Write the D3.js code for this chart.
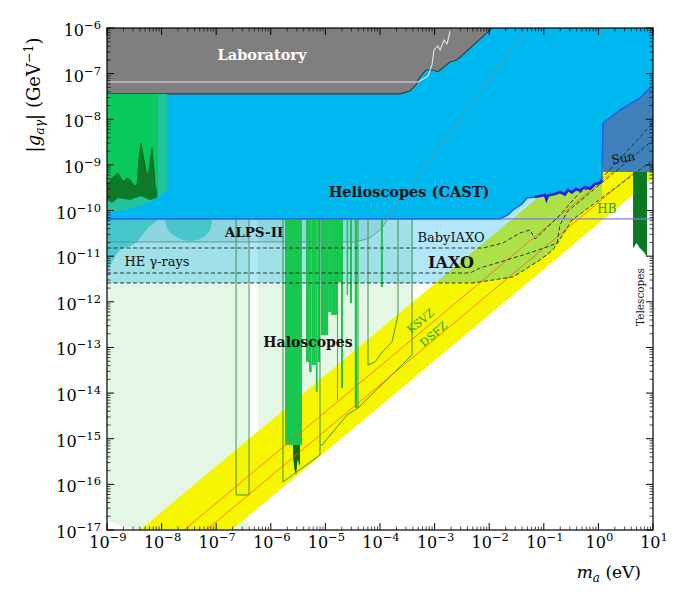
<!DOCTYPE html>
<html><head><meta charset="utf-8">
<script src="https://cdn.jsdelivr.net/npm/d3@7"></script>
<style>body{margin:0;background:#fff}svg{display:block}</style>
</head><body>
<svg id="c" width="682" height="600"></svg>
<script>
// ---------- data (mass in eV, coupling in GeV^-1) ----------
const xTickExps = [-9,-8,-7,-6,-5,-4,-3,-2,-1,0,1];
const yTickExps = [-17,-16,-15,-14,-13,-12,-11,-10,-9,-8,-7,-6];

const laboratory = [[1e-9,1e-6],[1e-9,3.6e-8],[2.32e-4,3.6e-8],[3.54e-4,4.17e-8],[4.56e-4,5.64e-8],[5.4e-4,8.43e-8],[6.95e-4,1.2e-7],[9.35e-4,1.2e-7],[1.15e-3,1.09e-7],[1.55e-3,1.47e-7],[1.91e-3,1.8e-7],[2.57e-3,1.99e-7],[1.03e-2,9e-7],[1.12e-2,1e-6]];
const labInner = [[1e-9,6.56e-8],[4.97e-4,6.56e-8],[7.57e-4,8.87e-8],[8.95e-4,1.55e-7],[9.75e-4,3.3e-7],[1.15e-3,4.04e-7],[1.26e-3,3.3e-7],[1.49e-3,5.46e-7],[1.69e-3,4.46e-7],[1.91e-3,8.17e-7],[2.08e-3,1e-6]];

const castLimit = [[1e-9,6.6e-11],[1.58e-2,6.6e-11],[2.2e-2,8.0e-11],[2.73e-2,1.03e-10],[3.99e-2,1.39e-10],[4.92e-2,1.88e-10],[6.9e-2,1.98e-10],[8.51e-2,2.09e-10],[0.105,2.19e-10],[0.112,1.75e-10],[0.119,2.1e-10],[0.13,2.19e-10],[0.16,2.31e-10],[0.198,2.55e-10],[0.244,2.25e-10],[0.277,2.83e-10],[0.328,2.5e-10],[0.389,2.97e-10],[0.46,2.75e-10],[0.569,3.28e-10],[0.702,3.0e-10],[0.867,3.82e-10],[1.07,4.02e-10],[1.16,4.68e-10],[1.21,8.28e-9],[2.49,1.6e-8],[5.78,2.92e-8],[10,5.64e-8]];
const sunRegion = [[1.21,8.28e-9],[2.49,1.6e-8],[5.78,2.92e-8],[10,5.64e-8],[10,7e-10],[1.21,7e-10]];
const telescopes = [[4.31,7e-10],[4.31,1.5e-11],[5.0,1.95e-11],[5.78,1.5e-11],[6.8,1.24e-11],[7.76,9.6e-12],[7.76,7e-10]];
const hbLimit = [[1e-9,6.6e-11],[10,6.6e-11]];

const qcdUpper = [[4.02e-9,1e-17],[10,2.49e-8]];
const qcdLower = [[1.93e-7,1e-17],[10,5.18e-10]];
const ksvz = [[2.57e-8,1e-17],[10,3.89e-9]];
const dfsz = [[6.61e-8,1e-17],[10,1.51e-9]];

const babyIAXO = [[1e-9,1.51e-11],[7.69e-3,1.51e-11],[1.79e-2,1.95e-11],[3.66e-2,3.22e-11],[5.58e-2,3.75e-11],[6.9e-2,2.38e-11],[0.175,6.87e-11],[0.46,2.5e-10],[0.9,3.7e-10],[10,8.28e-9]];
const iaxo = [[1e-9,4.28e-12],[4.45e-3,4.28e-12],[6.79e-3,5.5e-12],[1.58e-2,7.46e-12],[4.16e-2,1.06e-11],[0.1146,1.59e-11],[0.175,1.95e-11],[0.198,4.83e-11],[0.266,9.3e-11],[10,3.52e-9]];
const iaxoPlus = [[1e-9,2.59e-12],[5.05e-3,2.59e-12],[2.73e-2,3.5e-12],[8.51e-2,8.26e-12],[0.147,1.37e-11],[0.215,2.77e-11],[0.328,6.2e-11],[10,1.28e-9]];

const alpsII = [[1e-9,2.05e-11],[3.48e-5,2.05e-11],[6.56e-5,2.5e-11],[1.09e-4,4.15e-11],[1.52e-4,8.0e-11],[1.73e-4,1.03e-10],[1.9e-4,1.15e-10],[2.1e-4,1.6e-10],[2.87e-4,2.19e-10],[3.54e-4,3.28e-10],[4.92e-2,1e-6]];

const heBlobA = [[1e-9,6.6e-11],[8.59e-9,6.6e-11],[5.63e-9,4.15e-11],[4.56e-9,3.0e-11],[4.02e-9,2.5e-11],[3.7e-9,2.2e-11],[2.64e-9,1.67e-11],[1.73e-9,1.37e-11],[1.24e-9,7.46e-12],[1e-9,4.51e-12]];
const heBlobB = [[1.15e-8,6.6e-11],[1.31e-8,3.75e-11],[2.0e-8,2.5e-11],[3.31e-8,2.15e-11],[5.5e-8,2.5e-11],[7.7e-8,3.75e-11],[8.37e-8,6.6e-11]];

const lowMassTeal = [[1e-9,3.6e-8],[1.26e-8,3.6e-8],[1.26e-8,2.83e-10],[9.36e-9,2.09e-10],[6.13e-9,1.54e-10],[3.26e-9,1.2e-10],[1.73e-9,9.8e-11],[1e-9,8.85e-11]];
const jaggedTop = [[1e-9,3.63e-10],[1.24e-9,5.17e-10],[1.59e-9,6.65e-10],[1.96e-9,4.23e-10],[2.32e-9,5.17e-10],[2.64e-9,4.68e-10],[3.13e-9,3.45e-10],[3.54e-9,3.63e-10],[3.85e-9,1.28e-9],[4.19e-9,3.02e-9],[4.56e-9,1.65e-9],[4.97e-9,9.96e-10],[5.41e-9,5.17e-10],[5.88e-9,7.74e-10],[6.67e-9,2.35e-9],[7.26e-9,7.74e-10],[7.57e-9,3.63e-10],[8.24e-9,2.19e-10]];
const jaggedBottom = [[8.24e-9,1.88e-10],[6.13e-9,1.7e-10],[4.19e-9,2.09e-10],[2.64e-9,1.7e-10],[1.59e-9,1.88e-10],[1.24e-9,1.47e-10],[1e-9,1.7e-10]];

const paleA = [[1e-9,6.6e-11],[3.82e-7,6.6e-11],[3.82e-7,1e-17],[4.97e-9,1e-17],[1.73e-9,1.23e-17],[1e-9,1.66e-17]];
const paleB = [[5.83e-7,6.6e-11],[4.02e-4,6.6e-11],[4.02e-4,2.08e-14],[5.83e-7,3.02e-17]];

const haloTop = 6.6e-11;
const haloSteps = [
  [1.82e-6,3.72e-6,7.3e-16],
  [4.41e-6,5.01e-6,4.81e-14],[5.01e-6,5.6e-6,2.9e-14],[5.6e-6,6.7e-6,4.13e-14],[6.7e-6,7.2e-6,1.06e-14],[7.2e-6,7.96e-6,4.81e-14],
  [8.3e-6,1.12e-5,1.87e-13],[1.12e-5,1.27e-5,5.98e-13],[1.27e-5,1.63e-5,5.15e-13],[1.63e-5,1.70e-5,7.06e-15],
  [1.70e-5,1.93e-5,2.72e-12],[1.93e-5,2.10e-5,1.29e-14],
  [2.45e-5,2.60e-5,1.41e-12],[2.82e-5,3.07e-5,9.4e-13],[3.45e-5,3.79e-5,4.72e-15],
  [1.04e-4,1.13e-4,2.11e-12]
];
const admxDeep = [[2.55e-6,7.3e-16],[3.43e-6,7.3e-16],[3.43e-6,2.5e-16],[3.1e-6,3.4e-16],[2.9e-6,1.61e-16],[2.7e-6,2.2e-16],[2.55e-6,4e-16]];
const haloProj = [
  [[2.31e-7,6.6e-11],[2.31e-7,5.86e-17],[3.99e-7,5.86e-17],[3.99e-7,6.6e-11]],
  [[1.67e-6,6.6e-11],[1.67e-6,1.13e-16],[7.96e-6,4.41e-16],[7.96e-6,6.6e-11]],
  [[3.86e-4,6.6e-11],[3.86e-4,6.84e-14],[3.95e-5,4.72e-15],[2.49e-5,3.31e-15],[8.66e-6,7.3e-16],[7.96e-6,7.3e-16]],
  [[3.95e-5,6.6e-11],[3.95e-5,4.72e-15]],
  [[6.03e-5,6.6e-11],[6.03e-5,4.13e-14],[8.1e-5,4.81e-14],[1.09e-4,7.96e-14],[1.66e-4,1.32e-13],[2.14e-4,5.15e-13],[2.14e-4,6.6e-11]]
];

// ---------- drawing ----------
const M = {l:107, r:653, t:28, b:530};
const x = d3.scaleLog().domain([1e-9,10]).range([M.l,M.r]);
const y = d3.scaleLog().domain([1e-17,1e-6]).range([M.b,M.t]);
const svg = d3.select("#c");
const defs = svg.append("defs");
defs.append("clipPath").attr("id","plot").append("rect")
  .attr("x",M.l).attr("y",M.t).attr("width",M.r-M.l).attr("height",M.b-M.t);
defs.append("clipPath").attr("id","iaxoClip").append("rect")
  .attr("x",M.l).attr("y",M.t).attr("width",x(1.16)-M.l).attr("height",M.b-M.t);

const line = d3.line().x(d=>x(d[0])).y(d=>y(d[1]));
const smooth = d3.line().x(d=>x(d[0])).y(d=>y(d[1])).curve(d3.curveCatmullRom);
const G = svg.append("g").attr("clip-path","url(#plot)");
function area(parent, pts, fill, extra){
  const p = parent.append("path").attr("d", line(pts)+"Z").attr("fill", fill).attr("stroke","none");
  if(extra) extra(p);
  return p;
}
function stroke(parent, pts, col, w, dash, gen){
  return parent.append("path").attr("d",(gen||line)(pts)).attr("fill","none")
    .attr("stroke",col).attr("stroke-width",w).attr("stroke-dasharray",dash||null);
}

// pale haloscope projections
area(G, paleA, "#e4f7e4");
area(G, paleB, "#e4f7e4");
// QCD band
area(G, [qcdUpper[0],qcdUpper[1],qcdLower[1],qcdLower[0]], "#f6f600");
// IAXO projected region (translucent blue)
const gI = G.append("g").attr("clip-path","url(#iaxoClip)");
area(gI, [[1e-9,1e-8],[10,1e-8]].concat(iaxoPlus.slice().reverse()), "#00b0ee", p=>p.attr("fill-opacity",0.3));
// ALPS-II fill
area(G, alpsII.concat([[1e-9,1e-6]]), "#0f8fa8", p=>p.attr("fill-opacity",0.12));
// HE gamma-ray blobs
G.append("path").attr("d", smooth(heBlobA)+"Z").attr("fill","#2fc0c4").attr("fill-opacity",0.75);
G.append("path").attr("d", smooth(heBlobB)+"Z").attr("fill","#2fc0c4").attr("fill-opacity",0.75);

// haloscope bars
G.append("g").selectAll("rect").data(haloSteps).join("rect")
  .attr("x", d=>x(d[0])).attr("width", d=>x(d[1])-x(d[0]))
  .attr("y", y(haloTop)).attr("height", d=>y(d[2])-y(haloTop))
  .attr("fill","#18c84e");
area(G, admxDeep, "#0b6f20");
haloProj.forEach(p=>stroke(G, p, "#2b8a3e", 0.9));

// KSVZ / DFSZ
stroke(G, ksvz, "#ff5a1a", 0.9).attr("stroke-opacity",0.85);
stroke(G, dfsz, "#ff5a1a", 0.9).attr("stroke-opacity",0.85);

// Sun, telescopes, HB
area(G, sunRegion, "#3f80ba");
area(G, telescopes, "#0a7a20");
stroke(G, hbLimit, "#8a78e0", 1.2);

// IAXO dashed
[babyIAXO, iaxo, iaxoPlus].forEach(c=>stroke(G, c, "#222", 0.9, "4,2.5"));

// CAST
area(G, castLimit.concat([[10,1e-6],[1e-9,1e-6]]), "#00b8f0");
stroke(G, castLimit, "#1a58e8", 1.3);
stroke(G, castLimit.filter(d=>d[0]>=0.06 && d[0]<=1.17), "#2020d8", 2.6);

// Laboratory
area(G, laboratory, "#7f7f7f");
stroke(G, laboratory.slice(1), "#3a3a3a", 1.1);
stroke(G, labInner, "#e6e6e6", 1.1);

// low-mass green region
area(G, lowMassTeal, "#22c49c");
area(G, [[1e-9,3.6e-8],[8.59e-9,3.6e-8],[8.59e-9,2.0e-10]].concat(jaggedTop.slice().reverse()), "#08c95c");
area(G, jaggedTop.concat(jaggedBottom), "#0d7a2a");
stroke(G, jaggedTop, "#0a6a22", 1);

// ALPS-II curve
stroke(G, alpsII, "#5f8e96", 0.9);

// ---------- labels ----------
const serif = "DejaVu Serif";
function label(txt, px, py, o){
  o = o||{};
  const t = svg.append("text").attr("x",px).attr("y",py).text(txt)
    .attr("font-family",serif).attr("font-size",o.size||13)
    .attr("font-weight",o.bold?"bold":"normal").attr("fill",o.fill||"#111")
    .attr("text-anchor","middle");
  if(o.rot!=null) t.attr("transform",`rotate(${o.rot},${px},${py})`);
  return t;
}
label("Laboratory", 262, 60, {bold:true, size:14.5, fill:"#fff"});
label("Helioscopes (CAST)", 409, 197, {bold:true, size:14.5});
label("ALPS-II", 254, 237, {bold:true, size:13.5});
label("HE \u03b3-rays", 157, 266, {size:13});
label("BabyIAXO", 451, 242, {size:13});
label("IAXO", 451, 268, {bold:true, size:16});
label("Haloscopes", 308, 347, {bold:true, size:14});
label("Sun", 624, 162, {size:12, rot:-10});
label("HB", 607, 213, {size:12, fill:"#2a9a1c"});
label("KSVZ", 423, 324, {size:11, fill:"#22a022", rot:-40});
label("DSFZ", 436, 337, {size:11, fill:"#22a022", rot:-40});
label("Telescopes", 644, 297, {size:10.5, rot:-90});

// ---------- axes ----------
const A = svg.append("g");
A.append("rect").attr("x",M.l).attr("y",M.t).attr("width",M.r-M.l).attr("height",M.b-M.t)
  .attr("fill","none").attr("stroke","#000").attr("stroke-width",1.2);
function tick(x1,y1,x2,y2,w){A.append("line").attr("x1",x1).attr("y1",y1).attr("x2",x2).attr("y2",y2).attr("stroke","#000").attr("stroke-width",w);}
xTickExps.forEach(e=>{
  const v = Math.pow(10,e), px = x(v);
  tick(px,M.b,px,M.b-7,1); tick(px,M.t,px,M.t+7,1);
  if(e<1) for(let k=2;k<10;k++){const q=x(k*v); tick(q,M.b,q,M.b-3.5,0.7); tick(q,M.t,q,M.t+3.5,0.7);}
  const t = A.append("text").attr("x",px+1).attr("y",548).attr("text-anchor","middle")
    .attr("font-family",serif).attr("font-size",16);
  t.append("tspan").text("10");
  t.append("tspan").attr("dy",-7).attr("font-size",11.5).text(e===0||e===1 ? String(e) : "\u2212"+Math.abs(e));
});
yTickExps.forEach(e=>{
  const v = Math.pow(10,e), py = y(v);
  tick(M.l,py,M.l+7,py,1); tick(M.r,py,M.r-7,py,1);
  if(e<-6) for(let k=2;k<10;k++){const q=y(k*v); tick(M.l,q,M.l+3.5,q,0.7); tick(M.r,q,M.r-3.5,q,0.7);}
  const t = A.append("text").attr("x",101).attr("y",py+8).attr("text-anchor","end")
    .attr("font-family",serif).attr("font-size",16);
  t.append("tspan").text("10");
  t.append("tspan").attr("dy",-7).attr("font-size",11.5).text("\u2212"+Math.abs(e));
});

// axis titles
const yt = svg.append("text").attr("transform","translate(40,95) rotate(-90)").attr("text-anchor","middle")
  .attr("font-family",serif).attr("font-size",18);
yt.append("tspan").text("|");
yt.append("tspan").attr("font-style","italic").text("g");
yt.append("tspan").attr("font-style","italic").attr("font-size",12.5).attr("dy",4).text("a\u03b3");
yt.append("tspan").attr("dy",-4).text("| (GeV");
yt.append("tspan").attr("font-size",12.5).attr("dy",-7).text("\u22121");
yt.append("tspan").attr("dy",7).text(")");

const xt = svg.append("text").attr("x",641).attr("y",578).attr("text-anchor","end")
  .attr("font-family",serif).attr("font-size",17);
xt.append("tspan").attr("font-style","italic").text("m");
xt.append("tspan").attr("font-style","italic").attr("font-size",12).attr("dy",4).text("a");
xt.append("tspan").attr("dy",-4).text(" (eV)");
</script>
</body></html>
